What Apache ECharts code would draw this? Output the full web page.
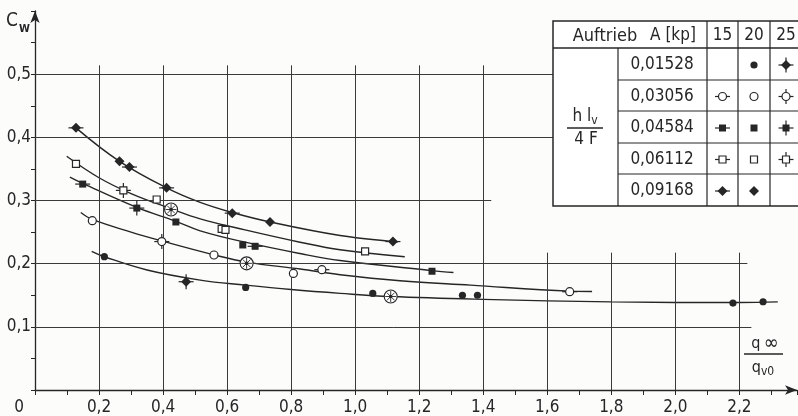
<!DOCTYPE html>
<html><head><meta charset="utf-8">
<script src="https://cdn.jsdelivr.net/npm/echarts@6/dist/echarts.min.js"></script>
<style>html,body{margin:0;padding:0;background:#fcfcfb}#c{width:798px;height:416px}</style>
</head><body><div id="c"></div>
<script>
// ---- tick labels ----
const xTickValues = [0, 0.2, 0.4, 0.6, 0.8, 1.0, 1.2, 1.4, 1.6, 1.8, 2.0, 2.2];
const xTickLabels = ['0', '0,2', '0,4', '0,6', '0,8', '1,0', '1,2', '1,4', '1,6', '1,8', '2,0', '2,2'];
const yTickValues = [0.1, 0.2, 0.3, 0.4, 0.5];
const yTickLabels = ['0,1', '0,2', '0,3', '0,4', '0,5'];

// ---- table (legend) ----
const tableRowLabels = ['0,01528', '0,03056', '0,04584', '0,06112', '0,09168'];
const tableColLabels = ['15', '20', '25'];
const tableSymbols = [
  [null, 'fc', 'fd+'],
  ['oc-', 'oc', 'oc+'],
  ['fs-', 'fs', 'fs+'],
  ['os-', 'os', 'os+'],
  ['fd-', 'fd', null]
];

// ---- fitted curves (x = q_inf/q_v0, y = c_w) ----
const curveA = [[0.128,0.415],[0.264,0.362],[0.411,0.320],[0.516,0.297],[0.616,0.281],[0.734,0.266],[0.953,0.2445],[1.118,0.235],[1.134,0.2345]];
const curveB = [[0.099,0.370],[0.2,0.336],[0.3,0.311],[0.425,0.287],[0.516,0.271],[0.656,0.2535],[0.828,0.234],[0.953,0.222],[1.155,0.211]];
const curveC = [[0.109,0.337],[0.149,0.327],[0.318,0.289],[0.44,0.267],[0.516,0.252],[0.656,0.234],[0.828,0.216],[0.953,0.205],[1.24,0.189],[1.307,0.186]];
const curveD = [[0.143,0.281],[0.179,0.270],[0.3,0.25],[0.396,0.236],[0.559,0.214],[0.661,0.2025],[0.828,0.1915],[0.953,0.1825],[1.14,0.173],[1.36,0.166],[1.67,0.1565],[1.74,0.156]];
const curveE = [[0.177,0.2195],[0.2166,0.211],[0.35,0.19],[0.516,0.174],[0.658,0.166],[0.8,0.159],[0.953,0.153],[1.111,0.148],[1.4,0.1435],[1.8,0.1395],[2.2,0.1385],[2.32,0.1395]];

// ---- measured points ----
const markA_x = [0.128, 0.264, 0.295, 0.411, 0.616, 0.734, 1.118];
const markA_y = [0.415, 0.362, 0.353, 0.320, 0.280, 0.266, 0.235];
const markA_t = ['fd-', 'fd', 'fd-', 'fd-', 'fd-', 'fd', 'fd-'];

const markB_x = [0.128, 0.276, 0.380, 0.425, 0.583, 0.595, 1.031];
const markB_y = [0.358, 0.316, 0.3016, 0.2857, 0.255, 0.2535, 0.2195];
const markB_t = ['os', 'os+', 'os', 'ow', 'os', 'os', 'os'];

const markC_x = [0.149, 0.318, 0.44, 0.649, 0.6875, 1.24];
const markC_y = [0.326, 0.288, 0.266, 0.2296, 0.2275, 0.188];
const markC_t = ['fs-', 'fs+', 'fs', 'fs', 'fs-', 'fs'];

const markD_x = [0.179, 0.396, 0.559, 0.661, 0.807, 0.896, 1.670];
const markD_y = [0.268, 0.235, 0.2137, 0.2005, 0.1846, 0.1905, 0.1556];
const markD_t = ['oc', 'oc+', 'oc', 'ow', 'oc', 'oc-', 'oc-'];

const markE_x = [0.2166, 0.472, 0.658, 1.055, 1.111, 1.335, 1.382, 2.180, 2.274];
const markE_y = [0.211, 0.1714, 0.1624, 0.1529, 0.148, 0.150, 0.150, 0.1376, 0.1397];
const markE_t = ['fc', 'fd+', 'fc', 'fc', 'ow', 'fc', 'fc', 'fc', 'fc'];

// ---- styling ----
const INK = '#262626';
const FONT = "'DejaVu Sans Condensed','DejaVu Sans',sans-serif";

function markerShapes(t, cx, cy, z) {
  const base = t.replace(/[-+]/g, '');
  const out = [];
  const ls = { stroke: INK, lineWidth: 1.2 };
  if (t.indexOf('-') >= 0 || t.indexOf('+') >= 0)
    out.push({ type: 'line', shape: { x1: cx - 7.5, y1: cy, x2: cx + 7.5, y2: cy }, style: ls });
  if (t.indexOf('+') >= 0)
    out.push({ type: 'line', shape: { x1: cx, y1: cy - 7.5, x2: cx, y2: cy + 7.5 }, style: ls });
  if (base === 'fc') out.push({ type: 'circle', shape: { cx: cx, cy: cy, r: 3.6 }, style: { fill: INK } });
  else if (base === 'oc') out.push({ type: 'circle', shape: { cx: cx, cy: cy, r: 4 }, style: { fill: '#fff', stroke: INK, lineWidth: 1.2 } });
  else if (base === 'fs') out.push({ type: 'rect', shape: { x: cx - 3.5, y: cy - 3.5, width: 7, height: 7 }, style: { fill: INK } });
  else if (base === 'os') out.push({ type: 'rect', shape: { x: cx - 3.5, y: cy - 3.5, width: 7, height: 7 }, style: { fill: '#fff', stroke: INK, lineWidth: 1.2 } });
  else if (base === 'fd') out.push({ type: 'polygon', shape: { points: [[cx, cy - 5], [cx + 5, cy], [cx, cy + 5], [cx - 5, cy]] }, style: { fill: INK } });
  else if (base === 'ow') {
    out.push({ type: 'circle', shape: { cx: cx, cy: cy, r: 6.5 }, style: { fill: '#fff', stroke: INK, lineWidth: 1.1 } });
    for (let k = 0; k < 4; k++) {
      const a = k * Math.PI / 4, dx = Math.cos(a) * 5.5, dy = Math.sin(a) * 5.5;
      out.push({ type: 'line', shape: { x1: cx - dx, y1: cy - dy, x2: cx + dx, y2: cy + dy }, style: { stroke: INK, lineWidth: 0.9 } });
    }
    out.push({ type: 'circle', shape: { cx: cx, cy: cy, r: 1.8 }, style: { fill: INK } });
  }
  if (z !== undefined) out.forEach(function (e) { e.z = z; });
  return out;
}

function markerSeries(name, xs, ys, types) {
  return {
    name: name, type: 'custom', coordinateSystem: 'cartesian2d', z: 6, clip: false,
    data: xs.map(function (x, i) { return [x, ys[i]]; }),
    encode: { x: 0, y: 1 },
    renderItem: function (params, api) {
      const p = api.coord([api.value(0), api.value(1)]);
      return { type: 'group', children: markerShapes(types[params.dataIndex], p[0], p[1]) };
    }
  };
}

function curveSeries(name, pts) {
  return {
    name: name, type: 'line', data: pts, smooth: 0.4, showSymbol: false, symbol: 'none',
    lineStyle: { color: INK, width: 1.4 }, z: 4, silent: true
  };
}

// grid line extents (layout)
const gridSegs = [];
[0.2, 0.4, 0.6, 0.8, 1.0, 1.2, 1.4].forEach(function (v) { gridSegs.push([{ coord: [v, 0] }, { coord: [v, 0.514] }]); });
[1.6, 1.8, 2.0, 2.2].forEach(function (v) { gridSegs.push([{ coord: [v, 0] }, { coord: [v, 0.2175] }]); });
gridSegs.push([{ coord: [0, 0.5] }, { coord: [1.62, 0.5] }]);
gridSegs.push([{ coord: [0, 0.4] }, { coord: [1.62, 0.4] }]);
gridSegs.push([{ coord: [0, 0.3] }, { coord: [1.425, 0.3] }]);
gridSegs.push([{ coord: [0, 0.2] }, { coord: [2.225, 0.2] }]);
gridSegs.push([{ coord: [0, 0.1] }, { coord: [2.2375, 0.1] }]);

// table graphics
const TX = 553, TY = 21, TB = 206, TR = 812;
const rowY = [80, 111, 143, 174];
const rowC = [65, 96.5, 128, 159.5, 191];
const colC = [722.5, 754, 786];
const tableEls = [];
tableEls.push({ type: 'rect', shape: { x: TX, y: TY, width: TR - TX, height: TB - TY }, style: { fill: '#fff', stroke: INK, lineWidth: 1.5 }, z: 10 });
tableEls.push({ type: 'line', shape: { x1: TX, y1: 48, x2: TR, y2: 48 }, style: { stroke: INK, lineWidth: 1.5 }, z: 11 });
tableEls.push({ type: 'line', shape: { x1: 618, y1: 48, x2: 618, y2: TB }, style: { stroke: INK, lineWidth: 1.2 }, z: 11 });
[707, 738, 770].forEach(function (x) { tableEls.push({ type: 'line', shape: { x1: x, y1: TY, x2: x, y2: TB }, style: { stroke: INK, lineWidth: 1.2 }, z: 11 }); });
rowY.forEach(function (y) { tableEls.push({ type: 'line', shape: { x1: 618, y1: y, x2: TR, y2: y }, style: { stroke: INK, lineWidth: 1.1 }, z: 11 }); });
tableEls.push({ type: 'text', x: 605, y: 36, style: { text: 'Auftrieb', font: '18px ' + FONT, fill: INK, align: 'center', verticalAlign: 'middle' }, z: 12 });
tableEls.push({ type: 'text', x: 673, y: 36, style: { text: 'A [kp]', font: '17px ' + FONT, fill: INK, align: 'center', verticalAlign: 'middle' }, z: 12 });
tableColLabels.forEach(function (t, i) { tableEls.push({ type: 'text', x: colC[i], y: 36, style: { text: t, font: '17px ' + FONT, fill: INK, align: 'center', verticalAlign: 'middle' }, z: 12 }); });
tableRowLabels.forEach(function (t, i) { tableEls.push({ type: 'text', x: 662, y: rowC[i], style: { text: t, font: '17px ' + FONT, fill: INK, align: 'center', verticalAlign: 'middle' }, z: 12 }); });
tableSymbols.forEach(function (row, i) {
  row.forEach(function (s, j) {
    if (s) markerShapes(s, colC[j], rowC[i], 13).forEach(function (e) { tableEls.push(e); });
  });
});
tableEls.push({ type: 'text', x: 585, y: 117, style: { text: '{a|h l}{s|v}', fill: INK, align: 'center', verticalAlign: 'middle',
  rich: { a: { font: '17px ' + FONT, fill: INK }, s: { font: '12px ' + FONT, fill: INK, padding: [7, 0, 0, 0] } } }, z: 12 });
tableEls.push({ type: 'line', shape: { x1: 567, y1: 128, x2: 603, y2: 128 }, style: { stroke: INK, lineWidth: 1.3 }, z: 12 });
tableEls.push({ type: 'text', x: 586, y: 140, style: { text: '4 F', font: '17px ' + FONT, fill: INK, align: 'center', verticalAlign: 'middle' }, z: 12 });

// axis titles
const titleEls = [
  { type: 'text', x: 6, y: 21, style: { text: 'C', font: '19px ' + FONT, fill: INK, verticalAlign: 'middle' }, z: 12 },
  { type: 'text', x: 19, y: 29, style: { text: 'W', font: 'bold 11px ' + FONT, fill: INK, verticalAlign: 'middle' }, z: 12 },
  { type: 'text', x: 765, y: 344, style: { text: '{q|q} {i|∞}', fill: INK, align: 'center', verticalAlign: 'middle',
    rich: { q: { font: '16px ' + FONT, fill: INK }, i: { font: '20px ' + FONT, fill: INK } } }, z: 12 },
  { type: 'line', shape: { x1: 744, y1: 354, x2: 783, y2: 354 }, style: { stroke: INK, lineWidth: 1.3 }, z: 12 },
  { type: 'text', x: 763, y: 368, style: { text: '{q|q}{s|v0}', fill: INK, align: 'center', verticalAlign: 'middle',
    rich: { q: { font: '16px ' + FONT, fill: INK }, s: { font: '12px ' + FONT, fill: INK, padding: [7, 0, 0, 0] } } }, z: 12 }
];

const chart = echarts.init(document.getElementById('c'), null, { renderer: 'canvas' });
chart.setOption({
  backgroundColor: '#fcfcfb',
  animation: false,
  grid: { left: 35, top: 11, width: 762, height: 379, containLabel: false, outerBoundsMode: 'none' },
  xAxis: {
    type: 'value', min: 0, max: 2.38, interval: 0.1,
    axisLine: { show: true, symbol: ['none', 'arrow'], symbolSize: [7, 12], lineStyle: { color: INK, width: 1.3 } },
    axisTick: { show: true, length: 5, lineStyle: { color: INK, width: 1 } },
    splitLine: { show: false },
    axisLabel: {
      margin: 9, color: INK, fontSize: 17, fontFamily: FONT, hideOverlap: false,
      formatter: function (v) {
        const i = xTickValues.findIndex(function (t) { return Math.abs(t - v) < 1e-6; });
        if (i < 0) return '';
        return i === 0 ? '{z|' + xTickLabels[i] + '}' : xTickLabels[i];
      },
      rich: { z: { fontSize: 17, fontFamily: FONT, color: INK, padding: [0, 32, 0, 0] } }
    }
  },
  yAxis: {
    type: 'value', min: 0, max: 0.6, interval: 0.05,
    axisLine: { show: true, symbol: ['none', 'arrow'], symbolSize: [7, 12], lineStyle: { color: INK, width: 1.3 } },
    axisTick: { show: true, length: 4, lineStyle: { color: INK, width: 1 } },
    splitLine: { show: false },
    axisLabel: {
      margin: 4, color: INK, fontSize: 17, fontFamily: FONT, hideOverlap: false,
      formatter: function (v) {
        const i = yTickValues.findIndex(function (t) { return Math.abs(t - v) < 1e-6; });
        return i < 0 ? '' : yTickLabels[i];
      }
    }
  },
  series: [
    {
      name: 'grid', type: 'line', data: [], silent: true, z: 2,
      markLine: { silent: true, symbol: ['none', 'none'], label: { show: false }, animation: false,
        lineStyle: { color: '#3a3a3a', width: 1, type: 'solid' }, emphasis: { disabled: true }, data: gridSegs }
    },
    curveSeries('0,09168', curveA),
    curveSeries('0,06112', curveB),
    curveSeries('0,04584', curveC),
    curveSeries('0,03056', curveD),
    curveSeries('0,01528', curveE),
    markerSeries('m 0,09168', markA_x, markA_y, markA_t),
    markerSeries('m 0,06112', markB_x, markB_y, markB_t),
    markerSeries('m 0,04584', markC_x, markC_y, markC_t),
    markerSeries('m 0,03056', markD_x, markD_y, markD_t),
    markerSeries('m 0,01528', markE_x, markE_y, markE_t)
  ],
  graphic: tableEls.concat(titleEls)
});
</script>
</body></html>
